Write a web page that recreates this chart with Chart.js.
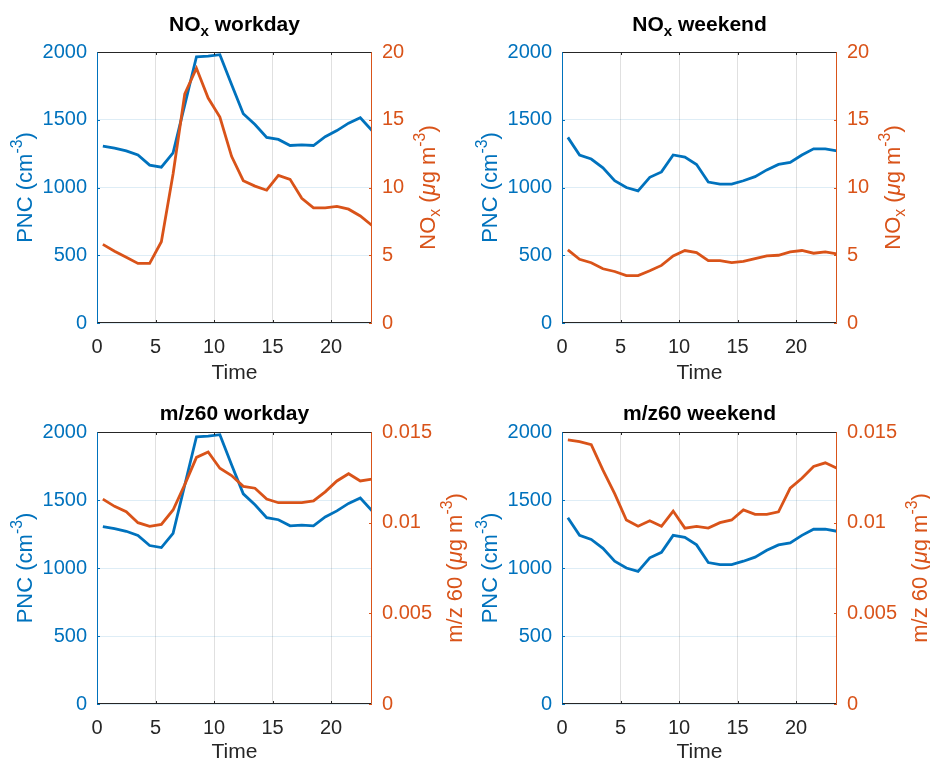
<!doctype html>
<html>
<head>
<meta charset="utf-8">
<title>PNC with NOx and m/z60, workday and weekend</title>
<script src="https://cdn.jsdelivr.net/npm/chart.js"></script>
<style>
	body { margin: 0; background: #fff; }
	#wrap { position: relative; width: 930px; height: 761px; }
	#wrap canvas { position: absolute; left: 0; top: 0; }
</style>
</head>
<body>
<div id="wrap">
	<canvas id="c1" width="930" height="761"></canvas>
	<canvas id="c2" width="930" height="761"></canvas>
	<canvas id="c3" width="930" height="761"></canvas>
	<canvas id="c4" width="930" height="761"></canvas>
</div>
<script>
// hour of day (bin centres)
var hours = [0.5, 1.5, 2.5, 3.5, 4.5, 5.5, 6.5, 7.5, 8.5, 9.5, 10.5, 11.5,
	12.5, 13.5, 14.5, 15.5, 16.5, 17.5, 18.5, 19.5, 20.5, 21.5, 22.5, 23.5];

var pncWorkday = [1305, 1290, 1270, 1240, 1165, 1150, 1255, 1610, 1965, 1970, 1980, 1760,
	1545, 1465, 1370, 1355, 1310, 1315, 1310, 1375, 1420, 1475, 1515, 1420];
var pncWeekend = [1370, 1240, 1210, 1145, 1050, 1000, 975, 1075, 1115, 1240, 1225, 1170,
	1040, 1025, 1025, 1050, 1080, 1130, 1170, 1185, 1240, 1285, 1285, 1270];

var noxWorkday = [5.8, 5.3, 4.85, 4.4, 4.4, 6.0, 11.0, 16.9, 18.8, 16.6, 15.2, 12.3,
	10.5, 10.1, 9.8, 10.9, 10.6, 9.2, 8.5, 8.5, 8.6, 8.4, 7.9, 7.2];
var noxWeekend = [5.4, 4.7, 4.45, 4.0, 3.8, 3.5, 3.5, 3.85, 4.25, 4.95, 5.35, 5.2,
	4.6, 4.6, 4.45, 4.55, 4.75, 4.95, 5.0, 5.25, 5.35, 5.15, 5.25, 5.1];

var mz60Workday = [0.0113, 0.0109, 0.0106, 0.0100, 0.0098, 0.0099, 0.0107, 0.0121, 0.0136, 0.0139, 0.0130, 0.0126,
	0.0120, 0.0119, 0.0113, 0.0111, 0.0111, 0.0111, 0.0112, 0.0117, 0.0123, 0.0127, 0.0123, 0.0124];
var mz60Weekend = [0.01456, 0.01447, 0.0143, 0.0129, 0.0116, 0.01015, 0.0098, 0.0101, 0.0098, 0.01064, 0.0097, 0.0098,
	0.0097, 0.0100, 0.01015, 0.0107, 0.01046, 0.01046, 0.0106, 0.0119, 0.01245, 0.0131, 0.0133, 0.0130];

var xTicks = [0, 5, 10, 15, 20];
var pncTicks = [0, 500, 1000, 1500, 2000];
var noxTicks = [0, 5, 10, 15, 20];
var mz60Ticks = [0, 0.005, 0.01, 0.015];
var noxTickLabels = ['0', '5', '10', '15', '20'];
var mzTickLabels = ['0', '0.005', '0.01', '0.015'];

var BLUE = '#0072BD';
var ORANGE = '#D95319';
var DARK = '#262626';
var FONT = '"Liberation Sans", Arial, Helvetica, sans-serif';

function pts(arr) {
	return hours.map(function (h, i) { return { x: h, y: arr[i] }; });
}

// draw a line of text made of pieces (sub / sup / italic), centred on cx, cy
function drawRich(ctx, segs, cx, cy, size, color, bold, rotate) {
	ctx.save();
	ctx.translate(cx, cy);
	if (rotate) ctx.rotate(-Math.PI / 2);
	var total = 0;
	segs.forEach(function (s) {
		s.size = (s.k === 'sub' || s.k === 'sup') ? size * 0.72 : size;
		s.font = (s.k === 'it' ? 'italic ' : '') + (bold ? 'bold ' : '') + s.size + 'px ' + FONT;
		ctx.font = s.font;
		s.w = ctx.measureText(s.t).width;
		total += s.w;
	});
	var x = -total / 2;
	ctx.fillStyle = color;
	ctx.textAlign = 'left';
	ctx.textBaseline = 'middle';
	segs.forEach(function (s) {
		var dy = s.k === 'sub' ? size * 0.32 : (s.k === 'sup' ? -size * 0.38 : 0);
		ctx.font = s.font;
		ctx.fillText(s.t, x, dy);
		x += s.w;
	});
	ctx.restore();
}

var decoPlugin = {
	id: 'deco',
	afterDraw: function (chart, args, o) {
		var ctx = chart.ctx, a = chart.chartArea;
		var sx = chart.scales.x, sy = chart.scales.y, sy1 = chart.scales.y1;
		ctx.save();
		ctx.lineWidth = 1;
		// inner tick marks
		ctx.strokeStyle = DARK;
		sx.ticks.forEach(function (t) {
			var px = Math.round(sx.getPixelForValue(t.value)) + 0.5;
			ctx.beginPath();
			ctx.moveTo(px, a.bottom); ctx.lineTo(px, a.bottom - 3);
			ctx.moveTo(px, a.top); ctx.lineTo(px, a.top + 3);
			ctx.stroke();
		});
		ctx.strokeStyle = BLUE;
		sy.ticks.forEach(function (t) {
			var py = Math.round(sy.getPixelForValue(t.value)) + 0.5;
			ctx.beginPath(); ctx.moveTo(a.left, py); ctx.lineTo(a.left + 3, py); ctx.stroke();
		});
		ctx.strokeStyle = ORANGE;
		sy1.ticks.forEach(function (t) {
			var py = Math.round(sy1.getPixelForValue(t.value)) + 0.5;
			ctx.beginPath(); ctx.moveTo(a.right, py); ctx.lineTo(a.right - 3, py); ctx.stroke();
		});
		// box
		var l = Math.round(a.left) + 0.5, r = Math.round(a.right) - 0.5;
		var t = Math.round(a.top) + 0.5, b = Math.round(a.bottom) - 0.5;
		ctx.strokeStyle = DARK;
		ctx.beginPath(); ctx.moveTo(l, t); ctx.lineTo(r, t); ctx.moveTo(l, b); ctx.lineTo(r, b); ctx.stroke();
		ctx.strokeStyle = BLUE;
		ctx.beginPath(); ctx.moveTo(l, t); ctx.lineTo(l, b); ctx.stroke();
		ctx.strokeStyle = ORANGE;
		ctx.beginPath(); ctx.moveTo(r, t); ctx.lineTo(r, b); ctx.stroke();
		ctx.restore();

		var midX = (a.left + a.right) / 2, midY = (a.top + a.bottom) / 2;
		drawRich(ctx, o.title, midX, o.titleY, 21, '#000', true, false);
		drawRich(ctx, [{ t: 'Time' }], midX, o.timeY, 21, DARK, false, false);
		drawRich(ctx, [{ t: 'PNC (cm' }, { t: '-3', k: 'sup' }, { t: ')' }], a.left - 71, midY, 22, BLUE, false, true);
		drawRich(ctx, o.right, a.right + o.rightDx, midY, 22, ORANGE, false, true);
	}
};

function makeChart(id, box, pnc, other, otherTicks, otherLabels, deco) {
	var ctx = document.getElementById(id).getContext('2d');
	return new Chart(ctx, {
		type: 'line',
		data: {
			datasets: [
				{ data: pts(other), yAxisID: 'y1', borderColor: ORANGE, borderWidth: 2.8, pointRadius: 0, tension: 0 },
				{ data: pts(pnc), yAxisID: 'y', borderColor: BLUE, borderWidth: 2.8, pointRadius: 0, tension: 0 }
			]
		},
		options: {
			responsive: false,
			animation: false,
			events: [],
			layout: { padding: { left: box[0] - 60, top: box[1], right: 930 - box[2] - 60, bottom: 761 - box[3] - 40 } },
			plugins: { legend: { display: false }, tooltip: { enabled: false }, deco: deco },
			scales: {
				x: {
					type: 'linear', position: 'bottom', min: 0, max: 23.5,
					afterFit: function (s) { s.height = 40; },
					afterBuildTicks: function (s) { s.ticks = xTicks.map(function (v) { return { value: v }; }); },
					ticks: {
						color: DARK, padding: 12, font: { family: FONT, size: 20 }, maxRotation: 0, autoSkip: false,
						callback: function (v) { return String(v); }
					},
					grid: { color: 'rgba(38,38,38,0.14)', drawTicks: false },
					border: { display: false }
				},
				y: {
					position: 'left', min: 0, max: 2000,
					afterFit: function (s) { s.width = 60; },
					afterBuildTicks: function (s) { s.ticks = pncTicks.map(function (v) { return { value: v }; }); },
					ticks: {
						color: BLUE, padding: 10, font: { family: FONT, size: 20 },
						callback: function (v) { return String(v); }
					},
					grid: { color: 'rgba(0,114,189,0.13)', drawTicks: false },
					border: { display: false }
				},
				y1: {
					position: 'right', min: otherTicks[0], max: otherTicks[otherTicks.length - 1],
					afterFit: function (s) { s.width = 60; },
					afterBuildTicks: function (s) { s.ticks = otherTicks.map(function (v) { return { value: v }; }); },
					ticks: {
						color: ORANGE, padding: 10, font: { family: FONT, size: 20 },
						callback: function (v) { return otherLabels[otherTicks.indexOf(v)]; }
					},
					grid: { display: false, drawTicks: false },
					border: { display: false }
				}
			}
		},
		plugins: [decoPlugin]
	});
}

var noxLabel = [{ t: 'NO' }, { t: 'x', k: 'sub' }, { t: ' (' }, { t: 'μ', k: 'it' }, { t: 'g m' }, { t: '-3', k: 'sup' }, { t: ')' }];
var mzLabel = [{ t: 'm/z 60 (' }, { t: 'μ', k: 'it' }, { t: 'g m' }, { t: '-3', k: 'sup' }, { t: ')' }];

makeChart('c1', [97, 52, 372, 323], pncWorkday, noxWorkday, noxTicks, noxTickLabels,
	{ title: [{ t: 'NO' }, { t: 'x', k: 'sub' }, { t: ' workday' }], titleY: 25, timeY: 373, right: noxLabel, rightDx: 57 });
makeChart('c2', [562, 52, 837, 323], pncWeekend, noxWeekend, noxTicks, noxTickLabels,
	{ title: [{ t: 'NO' }, { t: 'x', k: 'sub' }, { t: ' weekend' }], titleY: 25, timeY: 373, right: noxLabel, rightDx: 57 });
makeChart('c3', [97, 432, 372, 704], pncWorkday, mz60Workday, mz60Ticks, mzTickLabels,
	{ title: [{ t: 'm/z60 workday' }], titleY: 414, timeY: 752, right: mzLabel, rightDx: 84 });
makeChart('c4', [562, 432, 837, 704], pncWeekend, mz60Weekend, mz60Ticks, mzTickLabels,
	{ title: [{ t: 'm/z60 weekend' }], titleY: 414, timeY: 752, right: mzLabel, rightDx: 84 });
</script>
</body>
</html>
